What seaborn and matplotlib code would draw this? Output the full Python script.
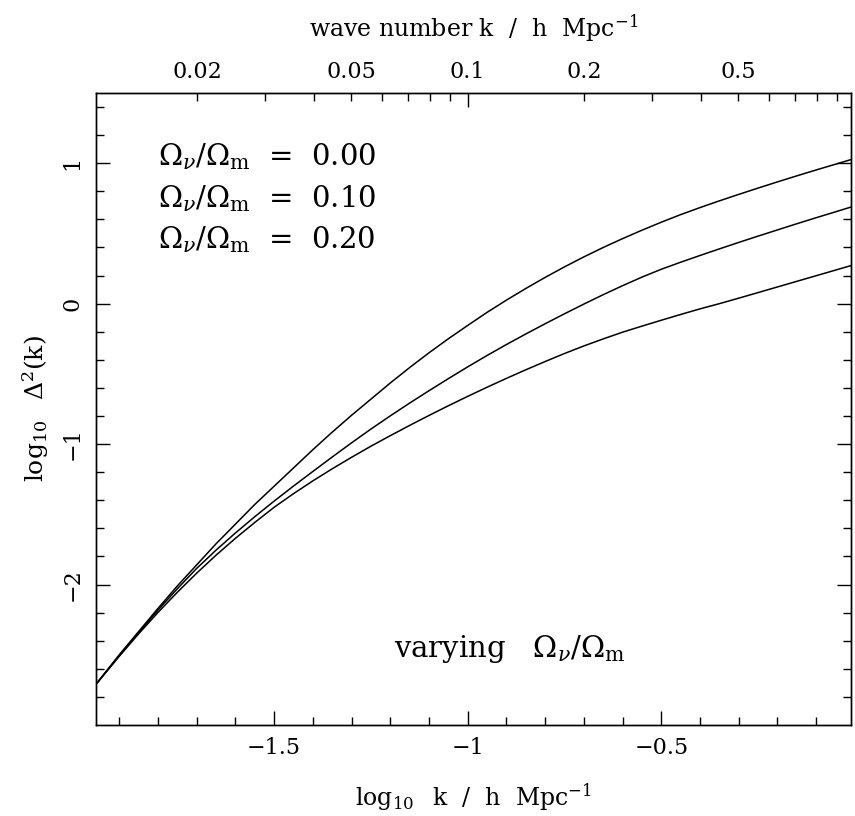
import numpy as np
import pandas as pd
import matplotlib
matplotlib.use("Agg")
import matplotlib.pyplot as plt
import seaborn as sns

# ---- data ----
log_k = [-1.96, -1.90, -1.85, -1.80, -1.75, -1.70, -1.65, -1.60, -1.55, -1.50,
         -1.45, -1.40, -1.35, -1.30, -1.25, -1.20, -1.15, -1.10, -1.05, -1.00,
         -0.95, -0.90, -0.85, -0.80, -0.75, -0.70, -0.65, -0.60, -0.55, -0.50,
         -0.45, -0.40, -0.35, -0.30, -0.25, -0.20, -0.15, -0.10, -0.05, -0.01]
delta_000 = [-2.71, -2.50, -2.335, -2.17, -2.01, -1.86, -1.71, -1.57, -1.43, -1.30,
             -1.17, -1.04, -0.915, -0.795, -0.68, -0.565, -0.455, -0.35, -0.25, -0.155,
             -0.062, 0.025, 0.108, 0.187, 0.262, 0.333, 0.40, 0.463, 0.523, 0.58,
             0.634, 0.684, 0.732, 0.778, 0.823, 0.867, 0.91, 0.952, 0.993, 1.026]
delta_010 = [-2.71, -2.507, -2.342, -2.182, -2.03, -1.885, -1.755, -1.633, -1.517, -1.406,
             -1.299, -1.195, -1.092, -0.991, -0.893, -0.799, -0.708, -0.62, -0.534, -0.45,
             -0.369, -0.291, -0.216, -0.143, -0.072, -0.003, 0.064, 0.128, 0.189, 0.245,
             0.295, 0.343, 0.39, 0.436, 0.481, 0.525, 0.569, 0.612, 0.654, 0.688]
delta_020 = [-2.71, -2.511, -2.351, -2.199, -2.055, -1.919, -1.791, -1.671, -1.558, -1.45,
             -1.353, -1.262, -1.176, -1.094, -1.015, -0.94, -0.867, -0.796, -0.727, -0.66,
             -0.595, -0.532, -0.471, -0.412, -0.355, -0.301, -0.251, -0.203, -0.16, -0.118,
             -0.077, -0.037, 0.0, 0.039, 0.079, 0.119, 0.159, 0.199, 0.239, 0.271]
ratio_labels = ["0.00", "0.10", "0.20"]

x_major = [-1.5, -1.0, -0.5]
x_major_labels = ["\u22121.5", "\u22121", "\u22120.5"]
x_minor = [-1.9, -1.8, -1.7, -1.6, -1.4, -1.3, -1.2, -1.1, -0.9, -0.8, -0.7,
           -0.6, -0.4, -0.3, -0.2, -0.1]
y_major = [-2, -1, 0, 1]
y_major_labels = ["\u22122", "\u22121", "0", "1"]
y_minor = [-2.8, -2.6, -2.4, -2.2, -1.8, -1.6, -1.4, -1.2, -0.8, -0.6, -0.4,
           -0.2, 0.2, 0.4, 0.6, 0.8, 1.2, 1.4]
k_major = [0.1]
k_major_labels = ["0.1"]
k_minor = [0.02, 0.03, 0.04, 0.05, 0.06, 0.07, 0.08, 0.09,
           0.2, 0.3, 0.4, 0.5, 0.6, 0.7, 0.8, 0.9]
k_minor_labels = ["0.02", "", "", "0.05", "", "", "", "",
                  "0.2", "", "", "0.5", "", "", "", ""]

sns.set_theme(style="ticks")
plt.rcParams["font.family"] = ["DejaVu Serif"]
plt.rcParams["mathtext.fontset"] = "dejavuserif"

df = pd.concat([
    pd.DataFrame({"logk": log_k, "logD": d, "ratio": r})
    for d, r in zip([delta_000, delta_010, delta_020], ratio_labels)
])

fig = plt.figure(figsize=(8.55, 8.16), dpi=100)
ax = fig.add_axes([96/855, 1-725/816, (851-96)/855, 632/816])
sns.lineplot(data=df, x="logk", y="logD", hue="ratio",
             palette=["black"]*3, estimator=None, sort=False,
             legend=False, lw=1.1, ax=ax)

ax.set_xlim(-1.96, -0.01)
ax.set_ylim(-3.0, 1.5)
for s in ax.spines.values():
    s.set_linewidth(1.0)
    s.set_color("black")

TICK_FS = 16
ax.set_xticks(x_major, x_major_labels)
ax.set_xticks(x_minor, minor=True)
ax.set_yticks(y_major, y_major_labels)
ax.set_yticks(y_minor, minor=True)
ax.tick_params(which="both", direction="in", color="black", width=1.0,
               bottom=True, top=False, left=True, right=True,
               labelsize=TICK_FS, labelcolor="black")
ax.tick_params(which="major", length=10)
ax.tick_params(which="minor", length=5.5)
ax.tick_params(axis="x", which="both", pad=9)
ax.tick_params(axis="y", which="both", pad=9)
for lab in ax.get_yticklabels():
    lab.set_rotation(90)
    lab.set_va("center")

ax.set_xlabel(r"$\log_{10}$  k  /  h  Mpc$^{-1}$", fontsize=17, color="black")
ax.xaxis.set_label_coords(0.5, -0.09)
ax.set_ylabel(r"$\log_{10}$  $\Delta^2$(k)", fontsize=18, color="black")
ax.yaxis.set_label_coords(-0.06, 0.5)

ax2 = ax.twiny()
ax2.set_xlim(ax.get_xlim())
ax2.set_xticks(np.log10(k_major), k_major_labels)
ax2.set_xticks(np.log10(k_minor), k_minor_labels, minor=True)
ax2.tick_params(which="both", direction="in", color="black", width=1.0,
                labelsize=TICK_FS, labelcolor="black", pad=7)
ax2.tick_params(which="major", length=10)
ax2.tick_params(which="minor", length=5.5)
ax2.set_xlabel(r"wave number k  /  h  Mpc$^{-1}$", fontsize=17, color="black")
ax2.xaxis.set_label_coords(0.5, 1.09)
for s in ax2.spines.values():
    s.set_linewidth(1.0)
    s.set_color("black")

for i, r in enumerate(ratio_labels):
    ax.text(-1.80, 1.045 - i*0.295,
            r"$\Omega_\nu/\Omega_\mathrm{m}$  =  " + r,
            fontsize=21, va="center", ha="left", color="black")
ax.text(-1.19, -2.46, r"varying   $\Omega_\nu/\Omega_\mathrm{m}$",
        fontsize=21, va="center", ha="left", color="black")

fig.savefig("out.png", dpi=100, facecolor="white")
